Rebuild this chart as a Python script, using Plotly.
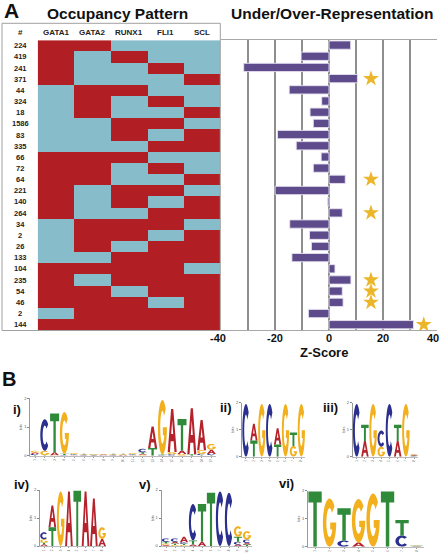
import math
import plotly.graph_objects as go

W, H = 442, 554
FONT = "Liberation Sans, Arial, sans-serif"

# ---------------- data: panel A ----------------
row_labels = ["224", "419", "241", "371", "44", "324", "18", "1586", "83", "335", "66", "72", "64",
              "221", "140", "264", "34", "2", "26", "133", "104", "235", "54", "46", "2", "144"]
factors = ["GATA1", "GATA2", "RUNX1", "FLI1", "SCL"]
gata1 = [1, 1, 1, 1, 0, 0, 0, 0, 0, 0, 1, 1, 1, 1, 1, 1, 0, 0, 0, 0, 1, 1, 1, 1, 0, 1]
gata2 = [1, 0, 0, 0, 1, 1, 1, 0, 0, 0, 1, 1, 1, 0, 0, 0, 1, 1, 1, 0, 1, 0, 1, 1, 1, 1]
runx1 = [0, 1, 0, 0, 1, 0, 0, 1, 1, 0, 1, 0, 0, 1, 1, 0, 1, 1, 0, 1, 1, 1, 0, 1, 1, 1]
fli1 = [0, 0, 1, 0, 0, 1, 0, 1, 0, 1, 0, 1, 0, 1, 0, 1, 1, 0, 1, 1, 1, 1, 1, 0, 1, 1]
scl = [0, 0, 0, 1, 0, 0, 1, 0, 1, 1, 0, 0, 1, 0, 1, 1, 0, 1, 1, 1, 0, 1, 1, 1, 1, 1]
z_scores = [8, -10.3, -31.5, 10.5, -14.7, -2.7, -7, -5.8, -19, -12.1, -2.9, -5.8, 6,
            -19.9, -0.5, 4.9, -14.5, -7.2, -6.5, -13.7, 2.2, 8.1, 4.9, 5.2, -7.6, 31.2]
significant = [0, 0, 0, 1, 0, 0, 0, 0, 0, 0, 0, 0, 1, 0, 0, 1, 0, 0, 0, 0, 0, 1, 1, 1, 0, 1]
z_ticks = [-40, -30, -20, -10, 0, 10, 20, 30, 40]
z_tick_labels = [-40, -20, 0, 20, 40]

# ---------------- data: panel B (letter heights in bits per position) ----------------
logo_i = {
    "A": [0.05, 0, 0.10, 0, 0.02, 0.01, 0.01, 0.02, 0.01, 0.02, 0.02, 0.04, 0.75, 0, 1.50, 0.12, 1.60, 1.05, 0.15],
    "C": [0.04, 1.10, 0, 0.02, 0.02, 0.02, 0.01, 0.01, 0.02, 0.01, 0.02, 0.12, 0, 0.02, 0.05, 0, 0, 0.05, 0.04],
    "G": [0.06, 0.15, 0.02, 1.45, 0.03, 0.02, 0.02, 0.02, 0.02, 0.02, 0.03, 0.03, 0, 1.90, 0.08, 0.06, 0, 0.12, 0.20],
    "T": [0.02, 0.02, 1.35, 0.05, 0.02, 0.02, 0.01, 0.01, 0.02, 0.02, 0.02, 0.05, 0.27, 0.02, 0, 1.10, 0.05, 0.02, 0.02],
}
logo_ii = {
    "A": [0, 0.62, 0, 0, 0.60, 0, 0, 0],
    "C": [1.95, 0, 0, 1.95, 0, 0, 0, 0],
    "G": [0, 0, 1.95, 0, 0, 1.95, 0.40, 1.95],
    "T": [0, 0.60, 0, 0, 0.45, 0, 0.50, 0],
}
logo_iii = {
    "A": [0, 0.58, 0, 0, 0, 0.58, 0, 0.03],
    "C": [1.95, 0, 0, 0.60, 1.95, 0, 0, 0.02],
    "G": [0, 0, 1.95, 0.37, 0, 0, 1.95, 0.03],
    "T": [0, 0.60, 0, 0, 0, 0.60, 0, 0.02],
}
logo_iv = {
    "A": [0.06, 0.78, 0, 1.95, 0, 1.95, 1.70, 0.25],
    "C": [0.25, 0, 0, 0, 0, 0, 0, 0],
    "G": [0.12, 0, 1.95, 0, 0, 0, 0, 0.42],
    "T": [0.06, 0.67, 0, 0, 1.97, 0, 0, 0],
}
logo_v = {
    "A": [0.04, 0.06, 0.20, 0.05, 0.15, 0, 0, 0, 0.05, 0.06],
    "C": [0.12, 0.12, 0.05, 1.30, 0, 0, 1.95, 1.90, 0.10, 0.12],
    "G": [0.05, 0.04, 0.04, 0, 0, 0, 0, 0, 0.38, 0.30],
    "T": [0.06, 0.05, 0.04, 0.15, 1.35, 1.90, 0, 0, 0.18, 0.05],
}
logo_vi = {
    "A": [0, 0, 0, 0.15, 0, 0, 0, 0.01],
    "C": [0, 0, 0.22, 0, 0, 0, 0.40, 0.01],
    "G": [0, 1.72, 0, 1.55, 1.90, 0, 0, 0.01],
    "T": [1.97, 0, 1.15, 0, 0, 1.97, 0.55, 0.01],
}

# ---------------- styling ----------------
RED = "#B11F25"
BLUE = "#87BCCB"
PURPLE = "#5E4B8B"
GOLD = "#EBB62A"
GRID = "#8E8E8E"
LETTER_COLORS = {"A": "#B5222B", "C": "#2B2F8E", "G": "#F2B01E", "T": "#2F8A3A"}


def px(x):
    return x / W


def py(y):
    return 1 - y / H


def note(x, y, text, size, xref="paper", yref="paper", xanchor="center", color="#111", xshift=0):
    return dict(x=x, y=y, xref=xref, yref=yref, text=text, showarrow=False,
                xanchor=xanchor, yanchor="middle", xshift=xshift,
                font=dict(size=size, family=FONT, color=color))


fig = go.Figure()

# ---------------- panel A: occupancy heatmap ----------------
cols = [gata1, gata2, runx1, fli1, scl]
zmat = [[c[r] for c in cols] for r in range(len(row_labels))]
rows = list(range(len(row_labels)))
fig.add_trace(go.Heatmap(
    z=zmat, x=list(range(len(factors))), y=rows, xaxis="x", yaxis="y",
    colorscale=[[0, BLUE], [0.5, BLUE], [0.5, RED], [1, RED]], zmin=0, zmax=1,
    showscale=False, hoverinfo="skip"))

# ---------------- panel A: z-score bars ----------------
fig.add_trace(go.Bar(
    x=z_scores, y=rows, orientation="h", xaxis="x2", yaxis="y2", width=0.74,
    marker=dict(color=PURPLE, line=dict(color="rgba(230,225,240,0.9)", width=1)),
    hoverinfo="skip"))
star_rows = [r for r in rows if significant[r]]
star_x = [max(15.5, z_scores[r] + 3.8) for r in star_rows]
fig.add_trace(go.Scatter(
    x=star_x, y=star_rows, mode="markers", xaxis="x2", yaxis="y2",
    marker=dict(symbol="star", size=12, color=GOLD, line=dict(width=0)),
    hoverinfo="skip"))

layout = dict(
    width=W, height=H, margin=dict(l=0, r=0, t=0, b=0, pad=0), autosize=False,
    paper_bgcolor="white", plot_bgcolor="rgba(0,0,0,0)", showlegend=False,
    font=dict(family=FONT, color="#111"),
    xaxis=dict(domain=[px(37.7), px(220.2)], range=[-0.5, 4.5], visible=False),
    yaxis=dict(domain=[py(330.3), py(40.2)], range=[25.5, -0.5], visible=False),
    xaxis2=dict(domain=[px(220.7), px(437.3)], range=[-40, 40], anchor="y2",
                tickvals=z_ticks, showticklabels=False,
                showgrid=True, gridcolor=GRID, gridwidth=1.6, zeroline=False,
                showline=True, mirror=True, linecolor="#A8A8A8", linewidth=1.2,
                ticks="", automargin=False),
    yaxis2=dict(domain=[py(330.3), py(39.5)], range=[25.5, -0.5], visible=False),
)

annotations = []
shapes = []

# Row labels and column headers
for r, lab in enumerate(row_labels):
    annotations.append(note(px(20), r, "<b>%s</b>" % lab, 7.5, yref="y", color="#222"))
annotations.append(note(px(20), py(33), "<b>#</b>", 8, color="#222"))
for c, f in enumerate(factors):
    annotations.append(note(c, py(33), "<b>%s</b>" % f, 8, xref="x", color="#222"))

# Z-score tick labels (placed on the bar chart's own x scale)
for t in z_tick_labels:
    shift = -4 if t == z_tick_labels[-1] else (-3 if t == z_tick_labels[0] else 0)
    annotations.append(note(t, py(338), "<b>%d</b>" % t, 11, xref="x2", xshift=shift))

# Titles
annotations += [
    note(px(2), py(11), "<b>A</b>", 21, xanchor="left"),
    note(px(117), py(13), "<b>Occupancy Pattern</b>", 15.5),
    note(px(332), py(13), "<b>Under/Over-Representation</b>", 15.5),
    note(px(324), py(352), "<b>Z-Score</b>", 13),
    note(px(0), py(379), "<b>B</b>", 20, xanchor="left"),
]

# Occupancy box
shapes.append(dict(type="rect", xref="paper", yref="paper", x0=px(2), x1=px(220.3),
                   y0=py(330.5), y1=py(23.3), line=dict(color="#A0A0A0", width=1),
                   fillcolor="rgba(0,0,0,0)", layer="above"))

# ---------------- panel B: sequence logos ----------------
def arc(cx, cy, rx, ry, a0, a1, n=28):
    pts = []
    for i in range(n + 1):
        a = math.radians(a0 + (a1 - a0) * i / n)
        pts.append((cx + rx * math.cos(a), cy + ry * math.sin(a)))
    return pts


GLYPHS = {
    "A": [[(0, 0), (0.38, 1), (0.62, 1), (1, 0), (0.75, 0), (0.665, 0.25), (0.335, 0.25), (0.25, 0)],
          [(0.39, 0.42), (0.61, 0.42), (0.5, 0.74)]],
    "T": [[(0, 1), (1, 1), (1, 0.8), (0.63, 0.8), (0.63, 0), (0.37, 0), (0.37, 0.8), (0, 0.8)]],
    "C": [arc(0.5, 0.5, 0.5, 0.5, 42, 318) + arc(0.5, 0.5, 0.24, 0.3, 318, 42)],
    "G": [arc(0.5, 0.5, 0.5, 0.5, 42, 360) + [(0.55, 0.5), (0.55, 0.36)]
          + arc(0.5, 0.5, 0.24, 0.3, 330, 42)],
}


def glyph_path(letter, x0, w, y0, h):
    parts = []
    for poly in GLYPHS[letter]:
        pts = ["%.4f,%.4f" % (x0 + u * w, y0 + v * h) for u, v in poly]
        parts.append("M " + " L ".join(pts) + " Z")
    return " ".join(parts)


logos = [
    # (data, label, label_x, label_y, x_left, x_right, y_top(2 bits), y_bottom(0))
    (logo_i, "i)", 11, 409, 30.1, 216.3, 398.3, 455.7),
    (logo_ii, "ii)", 218, 407, 242.0, 305.3, 402.7, 456.7),
    (logo_iii, "iii)", 321, 407, 352.6, 418.2, 402.7, 456.7),
    (logo_iv, "iv)", 12, 484, 39.9, 106.3, 490.0, 546.0),
    (logo_v, "v)", 137, 484, 161.5, 251.5, 490.0, 546.0),
    (logo_vi, "vi)", 277, 483, 307.8, 423.8, 490.7, 546.7),
]

for k, (data, lab, lx, ly, xl, xr, yt, yb) in enumerate(logos):
    idx = k + 3
    xa, ya = "x%d" % idx, "y%d" % idx
    n = len(data["A"])
    layout["xaxis%d" % idx] = dict(
        domain=[px(xl), px(xr)], range=[0.5, n + 0.5], anchor=ya,
        tickvals=list(range(1, n + 1)), ticktext=[str(i) for i in range(1, n + 1)],
        tickfont=dict(size=3, color="#666"), tickangle=-90, ticks="outside", ticklen=1.5,
        tickcolor="#999", showline=True, linecolor="#BBBBBB", linewidth=0.6,
        showgrid=False, zeroline=False, ticklabelstandoff=0, automargin=False)
    layout["yaxis%d" % idx] = dict(
        domain=[py(yb), py(yt)], range=[0, 2], anchor=xa,
        tickvals=[0, 1, 2], tickfont=dict(size=4, color="#555"), ticks="outside", ticklen=2,
        tickcolor="#888", showline=True, linecolor="#999", linewidth=0.7,
        showgrid=False, zeroline=False, ticklabelstandoff=0, automargin=False,
        title=dict(text="bits", font=dict(size=4, color="#555"), standoff=1))
    fig.add_trace(go.Scatter(x=[1], y=[0], mode="markers", marker=dict(opacity=0),
                             xaxis=xa, yaxis=ya, hoverinfo="skip"))
    for p in range(n):
        stack = sorted([(data[L][p], L) for L in "ACGT" if data[L][p] > 0.004])
        base = 0.0
        for hgt, L in stack:
            shapes.append(dict(type="path", xref=xa, yref=ya,
                               path=glyph_path(L, p + 1 - 0.46, 0.92, base, hgt),
                               fillcolor=LETTER_COLORS[L], line=dict(width=0),
                               fillrule="evenodd", layer="above"))
            base += hgt
    annotations.append(note(px(lx), py(ly), "<b>%s</b>" % lab, 13, xanchor="left"))

layout["annotations"] = annotations
layout["shapes"] = shapes
fig.update_layout(**layout)
fig.write_html("out.html", config={"displayModeBar": False},
               post_script="document.body.style.margin='0';document.body.style.padding='0';")
